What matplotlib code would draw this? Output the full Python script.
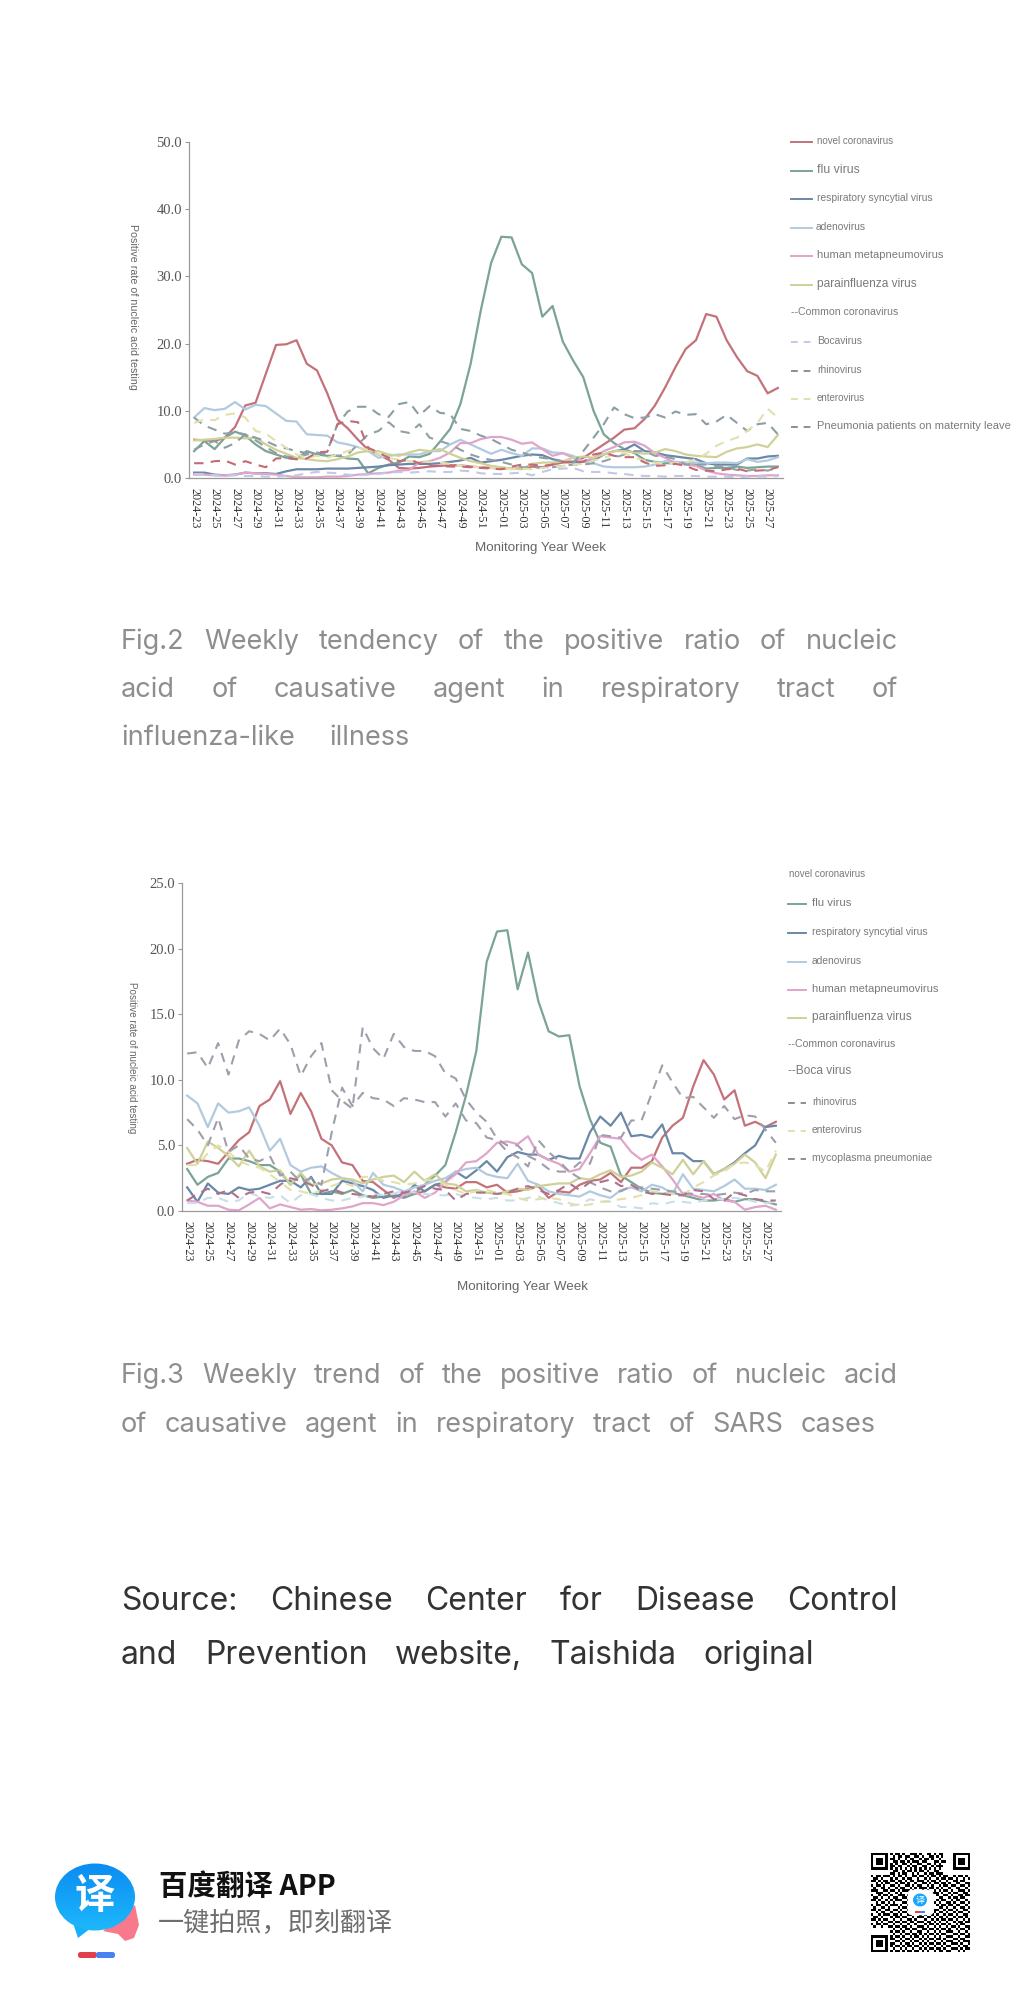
import numpy as np
import matplotlib
matplotlib.use("Agg")
import matplotlib.pyplot as plt
from matplotlib.patches import Ellipse, Polygon, FancyBboxPatch, Rectangle

W, H = 1021, 2000

# ---------- week labels ----------
weeks = [f"2024-{w}" for w in range(23, 53)] + [f"2025-{w:02d}" for w in range(1, 29)]

# ---------- Fig.2 influenza-like illness ----------
covid_ili = [5.7,5.6,5.5,6.0,7.6,10.8,11.2,15.5,19.8,19.9,
             20.5,17.0,16.0,12.6,8.7,7.4,5.7,4.2,3.5,2.7,
             1.5,1.4,1.5,1.7,1.8,1.9,1.9,1.7,1.6,1.5,
             1.4,1.4,1.4,1.7,1.6,2.0,2.3,2.4,3.0,4.0,
             5.0,6.0,7.2,7.4,8.8,10.8,13.5,16.5,19.2,20.5,
             24.4,24.0,20.5,18.0,15.9,15.2,12.6,13.4]
flu_ili = [4.0,5.5,4.3,6.0,6.9,6.3,5.0,4.0,3.5,3.0,
           2.8,4.0,3.5,3.3,3.3,2.9,2.8,0.7,1.5,2.0,
           2.3,3.2,3.1,3.6,5.4,7.3,11.0,17.0,25.0,32.0,
           35.9,35.8,31.8,30.5,24.0,25.6,20.3,17.5,15.0,10.0,
           6.5,5.2,4.3,3.7,2.7,2.4,2.2,2.2,2.1,2.0,
           1.4,1.5,1.5,1.7,1.5,1.6,1.7,1.7]
rsv_ili = [0.8,0.8,0.5,0.4,0.5,0.8,0.7,0.7,0.6,1.0,
           1.3,1.3,1.3,1.4,1.4,1.4,1.5,1.6,1.7,1.9,
           2.0,2.1,2.1,2.1,2.2,2.4,2.6,3.0,2.3,2.5,
           2.7,3.0,3.3,3.5,3.4,2.8,2.5,2.4,2.4,2.6,
           3.5,4.0,4.2,5.0,4.0,3.8,3.4,3.2,3.0,2.8,
           2.2,2.0,2.0,2.0,2.9,2.9,3.2,3.3]
adeno_ili = [9.0,10.4,10.1,10.3,11.3,10.2,10.9,10.7,9.6,8.5,
             8.4,6.5,6.4,6.3,5.3,5.0,4.6,4.0,3.0,3.3,
             3.5,3.5,3.5,4.0,4.0,5.0,5.7,5.0,4.3,3.6,
             4.2,3.7,3.3,4.4,4.4,3.8,3.7,3.3,2.5,2.2,
             1.7,1.6,1.6,1.6,1.7,2.0,2.5,2.4,2.3,2.3,
             2.2,2.3,2.3,2.2,2.8,2.4,2.6,3.1]
hmpv_ili = [0.5,0.5,0.4,0.4,0.5,0.8,0.7,0.6,0.5,0.3,
            0.1,0.1,0.1,0.2,0.2,0.3,0.5,0.6,0.7,0.8,
            1.1,1.2,2.3,2.5,3.0,3.8,5.2,5.2,5.8,6.1,
            6.1,5.7,5.1,5.3,4.3,3.3,3.7,3.0,2.4,3.0,
            4.0,4.6,5.3,5.4,4.8,3.7,3.0,2.2,2.0,1.8,
            1.1,0.7,0.5,0.4,0.3,0.3,0.4,0.4]
para_ili = [5.6,5.7,5.8,6.0,6.0,5.9,6.0,5.0,4.2,3.6,
            3.0,2.8,2.6,2.5,2.8,3.2,3.8,4.0,4.0,3.5,
            3.3,3.8,4.2,4.0,4.3,3.6,3.0,2.5,2.2,1.8,
            1.6,1.4,1.3,2.1,2.3,2.3,2.5,3.0,3.2,3.0,
            3.5,4.0,4.0,3.8,3.6,3.8,4.3,4.0,3.5,3.3,
            3.2,3.1,3.9,4.4,4.6,5.0,4.6,6.4]
common_ili = [9.0,7.8,7.2,6.6,6.8,6.5,5.6,4.6,3.7,3.2,
              3.0,3.5,3.8,3.5,3.3,3.5,5.0,6.5,7.0,8.3,
              7.0,6.7,8.0,6.0,5.5,5.0,4.2,3.5,3.0,2.7,
              2.4,2.0,1.6,1.6,1.5,1.6,1.8,2.0,2.0,2.2,
              2.5,3.0,3.5,4.0,4.0,3.3,3.2,2.8,2.0,2.0,
              2.0,1.8,1.6,1.2,1.1,1.3,1.1,1.5]
boca_ili = [0.6,0.6,0.4,0.3,0.4,0.3,0.3,0.2,0.2,0.3,
            0.4,0.7,0.9,0.8,0.7,0.5,0.4,0.5,0.6,0.8,
            0.9,0.8,0.9,1.0,0.9,0.9,1.1,1.0,0.7,0.6,
            0.6,0.7,0.8,0.4,0.9,1.3,1.4,1.5,1.0,0.9,
            0.9,0.7,0.6,0.4,0.3,0.3,0.2,0.3,0.3,0.3,
            0.2,0.2,0.2,0.1,0.2,0.2,0.2,0.3]
rhino_ili = [4.2,5.0,5.5,4.5,5.2,6.5,6.0,5.5,4.8,4.4,
             4.0,3.7,3.6,4.0,8.0,9.9,10.6,10.6,9.5,9.1,
             11.0,11.3,9.3,10.7,9.7,9.5,7.3,7.0,6.3,5.8,
             5.0,4.2,3.8,3.3,3.0,2.8,2.4,2.2,4.0,6.0,
             8.0,10.5,9.5,8.9,9.0,9.5,9.0,9.9,9.4,9.5,
             8.0,8.4,9.4,8.2,7.0,8.0,8.2,6.5]
entero_ili = [8.2,8.7,8.6,9.4,9.6,9.0,7.0,6.6,5.5,4.5,
              3.5,3.0,3.3,3.0,3.5,4.0,4.5,4.2,3.5,3.0,
              2.7,2.5,2.5,2.4,2.3,2.1,1.9,1.7,1.6,1.5,
              1.4,1.3,1.4,1.3,1.5,1.6,1.8,2.0,2.1,2.6,
              3.0,3.5,3.7,3.0,2.6,2.3,2.2,2.2,2.3,2.8,
              3.6,4.8,5.5,6.0,7.0,8.2,10.3,9.0]
pneu_ili = [2.2,2.2,2.5,2.6,2.0,2.5,2.0,1.6,2.9,3.0,
            2.8,2.9,3.8,3.9,8.0,8.5,8.3,4.5,3.8,3.0,
            2.5,2.7,2.2,1.8,1.8,1.7,1.7,1.6,1.5,1.4,
            1.3,1.7,2.0,2.0,1.8,2.0,2.4,2.3,2.4,3.5,
            3.8,3.3,3.1,3.1,2.3,1.8,1.9,2.1,1.8,1.2,
            1.1,1.0,1.3,1.4,1.0,1.1,1.2,1.6]

# ---------- Fig.3 SARS cases ----------
covid_sars = [3.6,3.9,3.8,3.6,4.5,5.4,6.0,8.0,8.5,9.9,
              7.4,9.0,7.6,5.5,5.0,3.7,3.5,2.3,2.2,1.6,
              1.0,1.4,1.3,1.5,2.0,1.8,1.7,2.2,2.2,1.8,
              2.0,1.4,1.5,1.7,1.9,1.0,1.5,1.4,2.0,2.3,
              2.4,2.9,2.2,3.3,3.3,3.8,5.6,6.5,7.1,9.5,
              11.5,10.4,8.5,9.2,6.5,6.8,6.4,6.8]
flu_sars = [3.2,2.0,2.6,2.9,4.0,4.0,3.8,3.5,3.5,3.0,
            2.0,2.8,1.3,1.3,1.5,1.3,1.6,1.2,1.0,1.1,
            1.2,1.0,1.3,2.0,2.7,3.5,6.0,8.8,12.2,19.0,
            21.3,21.4,16.9,19.7,16.0,13.7,13.3,13.4,9.5,7.0,
            5.2,4.9,2.7,2.2,1.7,1.4,1.3,1.4,1.2,1.0,
            0.8,0.8,0.9,0.7,0.9,0.9,0.7,0.5]
rsv_sars = [1.8,0.7,2.1,1.4,1.3,1.8,1.6,1.7,2.0,2.3,
            2.3,1.8,2.6,1.3,1.3,2.3,2.1,1.9,1.6,1.0,
            1.2,1.1,2.0,1.5,2.0,2.2,3.0,2.5,3.1,3.8,
            3.0,4.1,4.5,4.3,4.3,3.9,4.2,4.0,4.0,6.0,
            7.2,6.5,7.5,5.7,5.8,5.6,6.6,4.4,4.4,3.8,
            3.8,2.8,3.2,3.7,4.4,5.0,6.4,6.5]
adeno_sars = [8.8,8.2,6.4,8.2,7.5,7.6,7.9,6.5,4.6,5.5,
              3.5,3.0,3.3,3.4,2.9,2.5,2.3,1.5,2.9,2.0,
              1.8,1.5,1.8,2.0,2.3,2.5,3.0,3.2,3.3,2.8,
              2.6,2.5,3.6,2.3,2.0,1.5,1.3,1.2,1.1,1.5,
              1.2,1.0,1.6,1.8,1.5,2.0,1.8,1.3,2.8,1.7,
              1.6,1.5,1.9,2.4,1.7,1.7,1.6,2.0]
hmpv_sars = [0.8,0.7,0.4,0.4,0.1,0.05,0.5,1.0,0.2,0.5,
             0.3,0.1,0.15,0.05,0.1,0.2,0.35,0.6,0.6,0.45,
             0.7,1.2,1.5,1.0,1.4,2.2,2.8,3.7,3.8,4.4,
             5.2,5.3,5.1,5.7,4.3,3.9,3.6,3.0,3.2,4.4,
             5.7,5.6,5.5,4.5,3.9,4.3,3.4,2.4,1.3,1.2,
             1.0,1.3,0.8,0.7,0.1,0.3,0.4,0.1]
para_sars = [4.8,3.6,5.3,4.8,4.2,3.4,4.6,3.4,3.0,3.1,
             2.0,2.9,2.0,2.1,2.4,2.5,2.4,2.1,2.4,2.6,
             2.7,2.2,3.0,2.3,2.8,2.1,2.0,1.5,1.6,1.4,
             1.3,1.5,1.7,1.6,1.9,2.0,2.1,2.1,2.5,2.4,
             2.8,3.1,2.6,2.7,3.0,3.7,3.3,2.8,3.9,2.8,
             3.8,2.8,3.2,3.6,4.3,3.7,2.5,4.3]
common_sars = [12.0,12.1,10.9,12.8,10.4,13.0,13.7,13.5,13.0,13.9,
               12.7,10.3,11.8,12.8,9.2,8.4,7.8,14.0,12.4,11.6,
               13.5,12.5,12.2,12.2,11.8,10.5,10.1,8.5,7.5,6.8,
               5.5,5.0,5.0,4.2,3.8,3.2,3.0,3.0,2.5,2.2,
               1.8,1.5,1.5,1.9,1.8,1.7,1.6,1.5,1.4,1.3,
               1.3,1.2,1.3,1.4,1.3,1.6,1.5,1.5]
boca_sars = [0.6,0.6,1.0,1.0,0.7,0.8,1.4,1.1,1.0,1.2,
             0.6,1.2,1.3,1.0,0.8,0.8,1.0,1.1,1.3,1.2,
             1.3,1.6,1.4,1.3,1.2,1.2,1.3,1.1,1.0,0.9,
             1.0,0.8,0.8,1.0,1.1,0.8,0.6,0.4,0.5,0.9,
             0.7,0.7,0.3,0.3,0.2,0.6,0.5,0.7,0.7,0.6,
             0.8,0.9,0.9,1.0,0.9,0.7,0.6,0.7]
rhino_sars = [7.0,6.2,5.0,7.1,4.5,5.0,4.0,3.8,4.2,2.7,
              3.0,2.2,2.5,2.0,6.0,9.4,8.0,9.0,8.6,8.5,
              8.0,8.6,8.5,8.3,8.3,7.2,8.2,6.9,6.7,5.6,
              5.4,4.5,4.1,3.4,5.4,4.5,3.8,3.0,3.7,3.6,
              5.8,5.7,5.6,6.9,6.9,9.0,11.1,9.8,8.6,8.7,
              7.9,7.1,8.0,7.0,7.3,7.2,6.2,5.2]
entero_sars = [3.5,3.5,4.4,5.0,4.5,3.8,3.5,3.3,2.8,2.2,
               1.6,1.5,1.3,1.6,1.9,2.2,1.9,2.6,2.6,2.3,
               2.2,2.0,2.1,2.3,2.4,2.0,1.6,1.3,1.5,1.6,
               1.4,1.3,1.0,0.8,0.9,1.0,0.9,0.6,0.4,0.5,
               0.7,0.8,0.9,1.0,1.2,1.5,1.4,1.3,1.2,1.8,
               2.2,2.7,3.0,3.6,3.7,3.5,3.0,4.6]
myco_sars = [0.8,1.3,1.7,1.3,1.6,1.0,1.4,1.5,1.3,2.0,
             2.5,2.3,2.0,1.5,1.7,1.4,1.3,1.2,1.1,1.3,
             1.5,1.4,1.6,1.9,1.7,1.6,0.8,1.3,1.4,1.4,
             1.3,1.4,1.7,1.9,1.6,1.3,1.6,2.1,1.6,2.2,
             2.2,2.4,1.9,2.0,1.5,1.3,1.3,1.2,1.2,1.6,
             1.5,0.9,0.8,1.4,1.2,0.9,0.8,0.8]

# colour, dashed
solid_styles = [("#c4727a", "-"), ("#7ba396", "-"), ("#6a88a8", "-"),
                ("#b2cae0", "-"), ("#dfa5ca", "-"), ("#cfd198", "-")]
dash_styles_ili = [("#8fa0a6", "--"), ("#c2c8e6", "--"), ("#8c9ea5", "--"),
                   ("#e2e0ac", "--"), ("#c46a74", "--")]
dash_styles_sars = [("#a09eac", "--"), ("#c8dfea", "--"), ("#a09eac", "--"),
                    ("#e2e0ac", "--"), ("#ae7288", "--")]

# QR modules (finder squares are drawn over the corners afterwards)
qr_rows = [
    "00000000101101001110100110101100000000000",
    "00000000010110110011010011010100000000000",
    "00000000110100101100101101001000000000000",
    "00000000011011010111011000110110000000000",
    "00000000101001101001100110101000000000000",
    "00000000110110010110011001011100000000000",
    "00000000101010101010101010101000000000000",
    "00000000011001011010110100110000000000000",
    "00000000110101100101001011011100000000000",
    "10110111010110100110110101101011001011010",
    "01101000101001011001001010010110110100101",
    "11010110110110101101110101101001001101100",
    "00101011001011010010011010110110100110011",
    "10110100110100110101100101001011011001101",
    "01001101001011001010111011010100100110010",
    "11100110110101110100010100101011010011101",
    "00111001001010001011101011110100101100110",
    "10010110100111010000000000010011010011011",
    "01101001011001101000000000001100101101100",
    "11010010101110010000000000010110010110010",
    "00101101010001101000000000101001101001101",
    "10110010111010010000000000010110110110010",
    "01001101000101101000000000001101001001101",
    "11010011011010010000000000110010110100110",
    "00101100100101100111010110101101001011001",
    "10010111011010011000101001010010110100110",
    "01101000101101100101110110101101001011010",
    "11010110010010011010001001010110110100101",
    "00101001101101101101110110101001001011011",
    "10110110010010010010001011010110100101100",
    "01001001101101101001110100101001011010011",
    "00000000010010110110011011010110100101101",
    "00000000101101001001100100101001110010010",
    "00000000010010110110101011010110001101101",
    "00000000101101001011010100101001110010011",
    "00000000110010110100101011011010001101100",
    "00000000001101001011010100100101110010111",
    "00000000110010110100101011011010011101001",
    "00000000101101011011010100100101100010110",
    "00000000010010100100101011011010011101011",
    "00000000101101011011010100101101100010100",
]

fig = plt.figure(figsize=(W / 100, H / 100), dpi=100, facecolor="white")
page = fig.add_axes([0, 0, 1, 1])
page.set_xlim(0, W)
page.set_ylim(H, 0)
page.axis("off")
renderer = fig.canvas.get_renderer()


def justified(words, x0, x1, y, size, color, family="Inter"):
    # each word is placed so that the line runs from x0 to x1
    items = [page.text(0, y, w, fontsize=size, color=color, family=family, va="baseline")
             for w in words]
    widths = [t.get_window_extent(renderer).width for t in items]
    gap = (x1 - x0 - sum(widths)) / max(len(words) - 1, 1)
    x = x0
    for t, w in zip(items, widths):
        t.set_x(x)
        x += w + gap


def draw_chart(box, ymax, step, series, xlabel_pos, ylabel_pos, ylabel_size):
    x0, y0, x1, y1 = box
    ax = fig.add_axes([x0 / W, 1 - y1 / H, (x1 - x0) / W, (y1 - y0) / H])
    ax.patch.set_alpha(0)
    x = np.arange(len(weeks))
    for vals, (col, ls) in series:
        if ls == "--":
            ax.plot(x, vals, color=col, lw=1.5, dashes=(4.5, 3.5))
        else:
            ax.plot(x, vals, color=col, lw=1.6)
    ax.set_xlim(-0.5, len(weeks) - 0.5)
    ax.set_ylim(0, ymax)
    ax.set_yticks(np.arange(0, ymax + 0.1, step))
    ax.set_yticklabels([f"{v:.1f}" for v in np.arange(0, ymax + 0.1, step)],
                       family="Liberation Serif", fontsize=10.5, color="#555555")
    ax.set_xticks(x[::2])
    ax.set_xticklabels(weeks[::2], rotation=270, family="Liberation Serif",
                       fontsize=8.8, color="#333333", ha="center", va="top")
    ax.tick_params(axis="y", length=3, width=0.8, color="#999999", pad=2)
    ax.tick_params(axis="x", length=0, pad=7)
    for s in ("top", "right"):
        ax.spines[s].set_visible(False)
    for s in ("left", "bottom"):
        ax.spines[s].set_color("#9a9a9a")
        ax.spines[s].set_linewidth(0.9)
    page.text(xlabel_pos[0], xlabel_pos[1], "Monitoring Year Week", fontsize=9.6,
              color="#666666", family="Liberation Sans", ha="center", va="center")
    page.text(ylabel_pos[0], ylabel_pos[1], "Positive rate of nucleic acid testing",
              fontsize=ylabel_size, color="#666666", family="Liberation Sans",
              rotation=270, ha="center", va="center")


def legend(entries, lx0, lx1):
    for name, y, tx, size, col, ls in entries:
        if col is not None:
            if ls == "--":
                page.plot([lx0, lx1], [y, y], color=col, lw=1.4, dashes=(3.5, 3.0))
            else:
                page.plot([lx0, lx1], [y, y], color=col, lw=1.4)
        page.text(tx, y - 1, name, fontsize=size, color="#7a7a7a",
                  family="Liberation Sans", va="center")


# ---------- first chart ----------
ili_vals = [covid_ili, flu_ili, rsv_ili, adeno_ili, hmpv_ili, para_ili,
            common_ili, boca_ili, rhino_ili, entero_ili, pneu_ili]
draw_chart((189, 142, 783, 478), 50, 10, list(zip(ili_vals, solid_styles + dash_styles_ili)),
           (540, 548), (133, 307), 7.7)
legend([("novel coronavirus", 142, 817, 7.0, solid_styles[0][0], "-"),
        ("flu virus", 171, 817, 8.8, solid_styles[1][0], "-"),
        ("respiratory syncytial virus", 199, 817, 7.4, solid_styles[2][0], "-"),
        ("adenovirus", 228, 816, 7.4, solid_styles[3][0], "-"),
        ("human metapneumovirus", 256, 817, 8.0, solid_styles[4][0], "-"),
        ("parainfluenza virus", 285, 817, 8.6, solid_styles[5][0], "-"),
        ("Bocavirus", 342, 817, 7.4, dash_styles_ili[1][0], "--"),
        ("rhinovirus", 371, 817, 7.4, "#8a8f96", "--"),
        ("enterovirus", 399, 817, 7.0, dash_styles_ili[3][0], "--"),
        ("Pneumonia patients on maternity leave", 427, 817, 8.0, "#8a8f96", "--")], 791, 812)
legend([("--Common coronavirus", 313, 791, 7.6, None, "-")], 791, 812)

justified("Fig.2 Weekly tendency of the positive ratio of nucleic".split(), 121, 898, 649, 19.5, "#8e8e8e")
justified("acid of causative agent in respiratory tract of".split(), 121, 898, 697, 19.5, "#8e8e8e")
justified("influenza-like illness".split(), 121, 410, 745, 19.5, "#8e8e8e")

# ---------- second chart ----------
sars_vals = [covid_sars, flu_sars, rsv_sars, adeno_sars, hmpv_sars, para_sars,
             common_sars, boca_sars, rhino_sars, entero_sars, myco_sars]
draw_chart((182, 883, 781, 1211), 25, 5, list(zip(sars_vals, solid_styles + dash_styles_sars)),
           (522, 1287), (132, 1058), 7.1)
legend([("novel coronavirus", 875, 789, 7.0, None, "-"),
        ("flu virus", 904, 812, 8.2, solid_styles[1][0], "-"),
        ("respiratory syncytial virus", 933, 812, 7.4, solid_styles[2][0], "-"),
        ("adenovirus", 962, 812, 7.4, solid_styles[3][0], "-"),
        ("human metapneumovirus", 990, 812, 8.0, solid_styles[4][0], "-"),
        ("parainfluenza virus", 1018, 812, 8.6, solid_styles[5][0], "-"),
        ("rhinovirus", 1103, 812, 7.4, "#8a8f96", "--"),
        ("enterovirus", 1131, 812, 7.4, dash_styles_sars[3][0], "--"),
        ("mycoplasma pneumoniae", 1159, 812, 7.6, "#8a8f96", "--")], 788, 806)
legend([("--Common coronavirus", 1045, 788, 7.6, None, "-"),
        ("--Boca virus", 1072, 788, 8.6, None, "-")], 788, 806)

justified("Fig.3 Weekly trend of the positive ratio of nucleic acid".split(), 121, 898, 1383, 19.5, "#8e8e8e")
justified("of causative agent in respiratory tract of SARS cases".split(), 121, 876, 1432, 19.5, "#8e8e8e")

justified("Source: Chinese Center for Disease Control".split(), 121, 898, 1610, 23, "#333333")
justified("and Prevention website, Taishida original".split(), 121, 814, 1664, 23, "#333333")

# ---------- footer ----------
cjk = ["Noto Sans CJK SC", "DejaVu Sans"]
page.add_patch(Polygon([(135, 1905), (139, 1925), (134, 1938), (125, 1941), (118, 1934), (103, 1931)],
                       closed=True, facecolor="#f9798c", edgecolor="none", zorder=1))
bubble = Ellipse((95, 1897), 80, 67, facecolor="none", edgecolor="none")
page.add_patch(bubble)
page.add_patch(Polygon([(72, 1920), (78, 1938), (95, 1925)], closed=True, facecolor="#18b0fa",
                       edgecolor="none", zorder=3))
grad = page.imshow(np.linspace(0, 1, 64)[:, None], extent=(55, 135, 1931, 1863), aspect="auto",
                   cmap=matplotlib.colors.LinearSegmentedColormap.from_list("b", ["#0b8cf2", "#1db8fb"]),
                   zorder=3)
grad.set_clip_path(bubble)
page.set_xlim(0, W)
page.set_ylim(H, 0)
page.text(95, 1896, "译", fontsize=29, color="white", family=cjk, fontweight="bold",
          ha="center", va="center", zorder=4)
page.add_patch(FancyBboxPatch((78, 1952), 19, 6, boxstyle="round,pad=0,rounding_size=2.5", facecolor="#e0404a", edgecolor="none"))
page.add_patch(FancyBboxPatch((96, 1952), 19, 6, boxstyle="round,pad=0,rounding_size=2.5", facecolor="#4a80f0", edgecolor="none"))

page.text(159, 1895, "百度翻译 APP", fontsize=20.5, fontweight="bold", color="#111111",
          family=cjk, va="baseline")
page.text(158, 1931, "一键拍照，即刻翻译", fontsize=18.8, color="#6e6e6e", family=cjk, va="baseline")

qr = np.array([[int(c) for c in r.ljust(41, "0")[:41]] for r in qr_rows])
qx0, qy0, qsize = 871, 1853, 99
page.imshow(1 - qr, extent=(qx0, qx0 + qsize, qy0 + qsize, qy0), cmap="gray", vmin=0, vmax=1,
            interpolation="nearest", aspect="auto")
page.set_xlim(0, W)
page.set_ylim(H, 0)
m = qsize / 41
for cx, cy in [(qx0, qy0), (qx0 + qsize - 7 * m, qy0), (qx0, qy0 + qsize - 7 * m)]:
    page.add_patch(Rectangle((cx, cy), 7 * m, 7 * m, facecolor="black", edgecolor="none"))
    page.add_patch(Rectangle((cx + m, cy + m), 5 * m, 5 * m, facecolor="white", edgecolor="none"))
    page.add_patch(Rectangle((cx + 2 * m, cy + 2 * m), 3 * m, 3 * m, facecolor="black", edgecolor="none"))
page.add_patch(FancyBboxPatch((908, 1890), 25, 25, boxstyle="round,pad=0,rounding_size=4",
                              facecolor="white", edgecolor="#eeeeee", lw=0.5))
page.add_patch(Ellipse((920, 1900), 14, 13, facecolor="#1aa6f8", edgecolor="none"))
page.text(920, 1900, "译", fontsize=6.5, color="white", family=cjk, ha="center", va="center")
page.add_patch(Rectangle((915, 1911), 5, 1.5, facecolor="#e0404a", edgecolor="none"))
page.add_patch(Rectangle((920, 1911), 5, 1.5, facecolor="#4a80f0", edgecolor="none"))

fig.savefig("out.png", dpi=100, facecolor="white")
